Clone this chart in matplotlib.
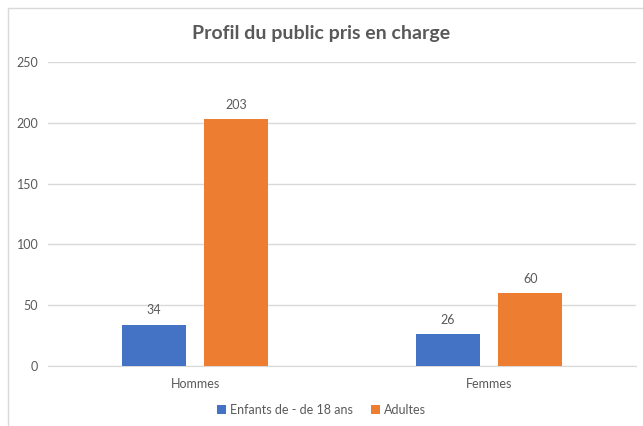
import matplotlib
matplotlib.use("Agg")
import matplotlib.pyplot as plt
import numpy as np
from matplotlib.patches import Rectangle

categories = ['Hommes', 'Femmes']
enfants = [34, 26]
adultes = [203, 60]
series_labels = ['Enfants de - de 18 ans', 'Adultes']
yticks = [0, 50, 100, 150, 200, 250]

plt.rcParams['font.family'] = ['Lato', 'DejaVu Sans']
grey = '#595959'

fig = plt.figure(figsize=(6.43, 4.26), dpi=100)
# chart frame
fig.patches.append(Rectangle((8 / 643, -0.1), 1.2, 1.1 - 8 / 426, transform=fig.transFigure,
                             fill=False, edgecolor='#D9D9D9', linewidth=1))
ax = fig.add_axes([48 / 643, 1 - 366 / 426, 588 / 643, 304 / 426])

x = np.arange(len(categories))
w = 0.218
b1 = ax.bar(x - 0.14, enfants, w, color='#4472C4', label=series_labels[0], zorder=3)
b2 = ax.bar(x + 0.14, adultes, w, color='#ED7D31', label=series_labels[1], zorder=3)
for bars in (b1, b2):
    ax.bar_label(bars, padding=6, color=grey, fontsize=9)

ax.set_xlim(-0.5, 1.5)
ax.set_ylim(0, 250)
ax.set_yticks(yticks)
ax.set_xticks(x)
ax.set_xticklabels(categories)
ax.yaxis.grid(True, color='#D9D9D9', linewidth=1, zorder=0)
for s in ax.spines.values():
    s.set_visible(False)
ax.spines['bottom'].set_visible(True)
ax.spines['bottom'].set_color('#D9D9D9')
ax.tick_params(length=0, colors=grey, labelsize=9)
ax.tick_params(axis='y', pad=7)
ax.tick_params(axis='x', pad=9)

fig.text(0.5, 1 - 33 / 426, 'Profil du public pris en charge', ha='center', va='center',
         fontsize=14, fontweight='bold', color=grey)
fig.legend(loc='center', bbox_to_anchor=(0.5, 1 - 410 / 426), ncol=2, frameon=False,
           fontsize=9, labelcolor=grey, handlelength=0.7, handleheight=0.7,
           handletextpad=0.3, columnspacing=1.5)

fig.savefig('out.png', dpi=100)
